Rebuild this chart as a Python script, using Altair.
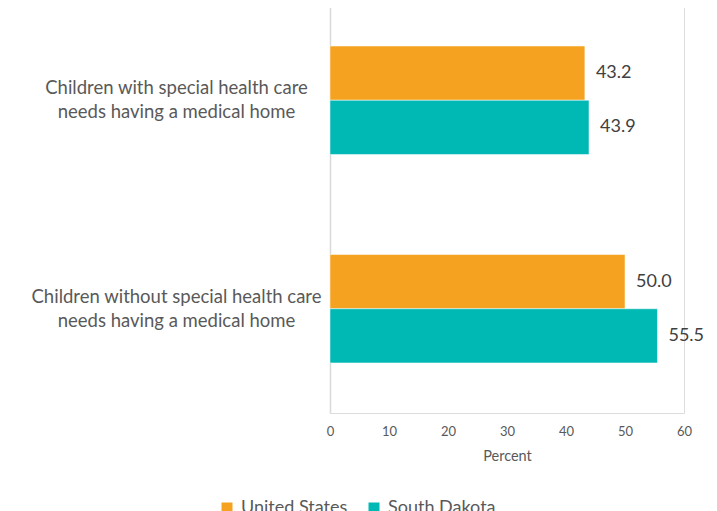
import altair as alt
import pandas as pd

categories = [
    "Children with special health care needs having a medical home",
    "Children without special health care needs having a medical home",
]
series = ["United States", "South Dakota"]
us_values = [43.2, 50.0]
sd_values = [43.9, 55.5]
colors = ["#F4A21F", "#00B8B4"]
x_ticks = [0, 10, 20, 30, 40, 50, 60]

rows = []
for i, c in enumerate(categories):
    rows.append({"category": c, "series": series[0], "value": us_values[i]})
    rows.append({"category": c, "series": series[1], "value": sd_values[i]})
df = pd.DataFrame(rows)

FONT = "Lato"

y_enc = alt.Y(
    "category:N",
    sort=categories,
    scale=alt.Scale(paddingInner=0.48, paddingOuter=0.24),
    axis=alt.Axis(
        title=None,
        ticks=False,
        tickSize=0,
        domain=True,
        domainColor="#D9D9D9",
        domainWidth=1.5,
        labelAlign="center",
        labelBaseline="middle",
        labelPadding=154,
        labelOffset=-12,
        labelLimit=400,
        labelFontSize=18.5,
        labelColor="#595959",
        labelFont=FONT,
        labelLineHeight=24,
        labelExpr="split(replace(datum.label, ' needs', '\\nneeds'), '\\n')",
    ),
)
x_enc = alt.X(
    "value:Q",
    scale=alt.Scale(domain=[0, 60], nice=False),
    axis=alt.Axis(
        values=x_ticks,
        title="Percent",
        titleFont=FONT,
        titleFontSize=14.5,
        titleFontWeight="normal",
        titleColor="#595959",
        titlePadding=11,
        labelFont=FONT,
        labelFontSize=13,
        labelColor="#595959",
        labelPadding=12,
        labelFlush=False,
        ticks=False,
        domain=False,
        grid=False,
    ),
)
yoff = alt.YOffset("series:N", sort=series, scale=alt.Scale(paddingInner=0, paddingOuter=0))

bars = alt.Chart(df).mark_bar(stroke="white", strokeWidth=0.5).encode(
    x=x_enc,
    y=y_enc,
    yOffset=yoff,
    color=alt.Color(
        "series:N",
        sort=series,
        scale=alt.Scale(domain=series, range=colors),
        legend=alt.Legend(
            title=None,
            orient="none",
            legendX=-112,
            legendY=503,
            direction="horizontal",
            symbolType="square",
            symbolSize=121,
            symbolStrokeWidth=0,
            labelFont=FONT,
            labelFontSize=18,
            labelColor="#595959",
            labelOffset=5,
            columnPadding=17,
        ),
    ),
)

labels = alt.Chart(df).mark_text(
    align="left", baseline="middle", dx=11, fontSize=18, font=FONT, color="#404040"
).encode(
    x=alt.X("value:Q"),
    y=alt.Y("category:N", sort=categories),
    yOffset=alt.YOffset("series:N", sort=series),
    text=alt.Text("value:Q", format=".1f"),
)

chart = (
    alt.layer(bars, labels)
    .properties(
        width=354,
        height=417,
        autosize=alt.AutoSizeParams(type="none"),
        padding={"left": 322, "top": -12, "right": 20, "bottom": 110},
    )
    .configure_view(stroke=None)
    .configure(background="white")
)

chart.save("out.html", embed_options={"renderer": "svg", "actions": False})
